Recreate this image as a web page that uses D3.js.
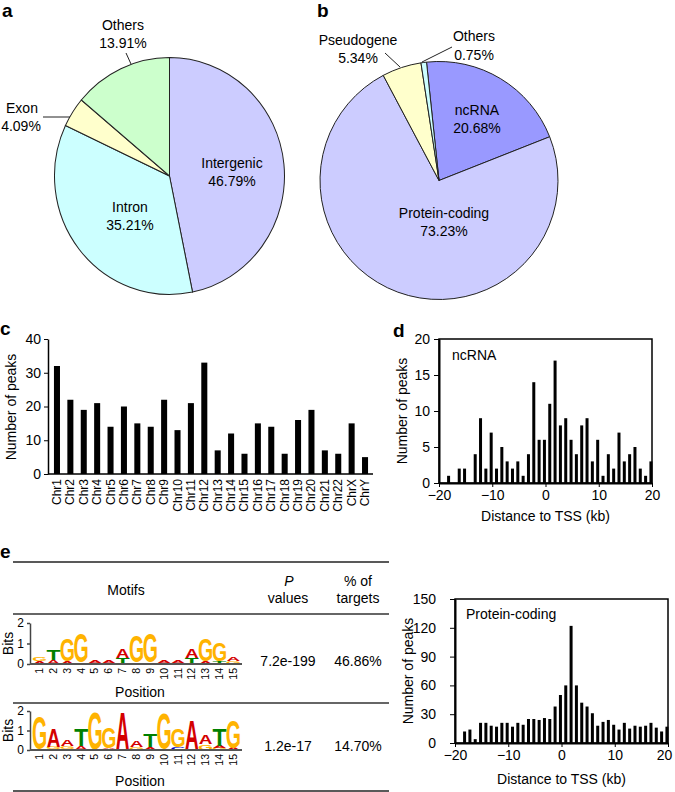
<!DOCTYPE html>
<html><head><meta charset="utf-8">
<script src="https://cdn.jsdelivr.net/npm/d3@7"></script>
<style>
body{margin:0;background:#fff}
svg{display:block}
text{font-family:"Liberation Sans",Arial,Helvetica,sans-serif}
</style>
</head><body>
<svg id="chart" width="675" height="792"></svg>
<script>
// ---------------- DATA ----------------
const pieACategories = ["Intergenic", "Intron", "Exon", "Others"];
const pieAValues = [46.79, 35.21, 4.09, 13.91];
const pieAColors = ["#ccccff", "#ccffff", "#ffffcc", "#ccffcc"];

const pieBCategories = ["ncRNA", "Protein-coding", "Pseudogene", "Others"];
const pieBValues = [20.68, 73.23, 5.34, 0.75];
const pieBColors = ["#9999ff", "#ccccff", "#ffffcc", "#ccffff"];

const chromosomes = ["Chr1","Chr2","Chr3","Chr4","Chr5","Chr6","Chr7","Chr8","Chr9","Chr10","Chr11","Chr12",
  "Chr13","Chr14","Chr15","Chr16","Chr17","Chr18","Chr19","Chr20","Chr21","Chr22","ChrX","ChrY"];
const peaksPerChromosome = [32,22,19,21,14,20,15,14,22,13,21,33,7,12,6,15,14,6,16,19,7,6,15,5];
const chrYTicks = [0,10,20,30,40];

const tssDistanceKb = [-20,-19,-18,-17,-16,-15,-14,-13,-12,-11,-10,-9,-8,-7,-6,-5,-4,-3,-2,-1,0,
  1,2,3,4,5,6,7,8,9,10,11,12,13,14,15,16,17,18,19,20];
const ncRNAPeaks = [0,0,1,0,2,2,0,4,9,2,7,2,5,3,2,3,1,4,14,6,6,
  11,17,8,9,6,4,8,9,3,6,1,4,2,7,3,4,5,2,1,3];
const proteinCodingPeaks = [0,0,12,14,4,21,21,18,17,21,21,17,21,19,25,25,24,26,25,38,50,
  60,122,60,42,38,31,18,22,24,19,14,21,15,18,17,18,21,16,12,17];
const ncRNAYTicks = [0,5,10,15,20];
const proteinCodingYTicks = [0,30,60,90,120,150];
const tssXTicks = [-20,-10,0,10,20];

const motifPositions = [1,2,3,4,5,6,7,8,9,10,11,12,13,14,15];
const bitsTicks = [0,1,2];
// each position: stack of [letter, bits] from bottom to top
const motif1 = [
  [["A",0.15],["G",0.2]],
  [["A",0.2],["T",0.5]],
  [["A",0.15],["G",1.1]],
  [["A",0.05],["G",1.5]],
  [["T",0.07],["A",0.15]],
  [["T",0.05],["A",0.1]],
  [["T",0.3],["A",0.45]],
  [["A",0.08],["G",1.35]],
  [["A",0.05],["G",1.45]],
  [["G",0.05],["A",0.15]],
  [["T",0.07],["A",0.12]],
  [["T",0.3],["A",0.45]],
  [["A",0.12],["G",1.1]],
  [["T",0.15],["G",0.95]],
  [["G",0.15],["A",0.2]]
];
const motif2 = [
  [["G",1.75]],
  [["C",0.04],["G",0.1],["A",0.95]],
  [["C",0.06],["G",0.15],["A",0.3]],
  [["A",0.2],["T",0.85]],
  [["G",1.95]],
  [["C",0.05],["A",0.05],["G",1.1]],
  [["A",2.0]],
  [["G",0.15],["A",0.3]],
  [["A",0.15],["T",0.65]],
  [["G",1.88]],
  [["C",0.15],["G",1.0]],
  [["T",0.05],["A",1.5]],
  [["G",0.3],["A",0.5]],
  [["G",0.1],["A",0.1],["T",0.85]],
  [["A",0.1],["G",1.5]]
];
const motifPValues = ["7.2e-199", "1.2e-17"];
const motifTargets = ["46.86%", "14.70%"];
const letterColors = {A:"#d40000", C:"#0000cc", G:"#ffb300", T:"#008000"};

// ---------------- DRAWING ----------------
const svg = d3.select("#chart");
svg.append("rect").attr("width",675).attr("height",792).attr("fill","#fff");

function txt(parent, s, x, y, o = {}) {
  const t = parent.append("text").attr("x", x).attr("y", y).text(s)
    .attr("font-size", o.fs || 14).attr("text-anchor", o.anchor || "middle").attr("fill", "#000");
  if (o.weight) t.attr("font-weight", o.weight);
  if (o.style) t.attr("font-style", o.style);
  if (o.rotate) t.attr("transform", `rotate(${o.rotate},${x},${y})`);
  return t;
}
function line(parent, x1, y1, x2, y2, w = 1, c = "#000") {
  parent.append("line").attr("x1",x1).attr("y1",y1).attr("x2",x2).attr("y2",y2)
    .attr("stroke", c).attr("stroke-width", w);
}
function styleAxis(g, fs) {
  g.attr("font-family", null).attr("font-size", fs);
  g.selectAll("text").attr("fill", "#000");
  g.selectAll("line,path").attr("stroke", "#000");
}

// panel labels
txt(svg, "a", 2, 17, {fs:19, weight:"bold", anchor:"start"});
txt(svg, "b", 317, 17, {fs:19, weight:"bold", anchor:"start"});
txt(svg, "c", 0, 335, {fs:19, weight:"bold", anchor:"start"});
txt(svg, "d", 393, 337, {fs:19, weight:"bold", anchor:"start"});
txt(svg, "e", 0, 558, {fs:19, weight:"bold", anchor:"start"});

// ----- Pie a -----
{
  const g = svg.append("g").attr("transform", "translate(169.5,176) scale(1,1.03)");
  const arc = d3.arc().innerRadius(0).outerRadius(115);
  const arcs = d3.pie().sort(null).value(d => d)(pieAValues);
  g.selectAll("path").data(arcs).join("path").attr("d", arc)
    .attr("fill", (d, i) => pieAColors[i]).attr("stroke", "#222").attr("stroke-width", 1);
  const fmt = v => v.toFixed(2) + "%";
  txt(svg, pieACategories[0], 232, 168); txt(svg, fmt(pieAValues[0]), 232, 186);
  txt(svg, pieACategories[1], 130, 212); txt(svg, fmt(pieAValues[1]), 130, 230);
  txt(svg, pieACategories[2], 22, 113); txt(svg, fmt(pieAValues[2]), 21, 131);
  line(svg, 43, 117, 70, 117, 1, "#222");
  txt(svg, pieACategories[3], 123, 30); txt(svg, fmt(pieAValues[3]), 123, 48);
  line(svg, 126, 53, 131, 64, 1, "#222");
}

// ----- Pie b -----
{
  const off = -0.105;
  const g = svg.append("g").attr("transform", "translate(439,180.5)");
  const arc = d3.arc().innerRadius(0).outerRadius(119);
  const arcs = d3.pie().sort(null).value(d => d).startAngle(off).endAngle(2 * Math.PI + off)(pieBValues);
  g.selectAll("path").data(arcs).join("path").attr("d", arc)
    .attr("fill", (d, i) => pieBColors[i]).attr("stroke", "#222").attr("stroke-width", 1);
  const fmt = v => v.toFixed(2) + "%";
  txt(svg, pieBCategories[0], 477, 115); txt(svg, fmt(pieBValues[0]), 477, 133);
  txt(svg, pieBCategories[1], 444, 218); txt(svg, fmt(pieBValues[1]), 444, 236);
  txt(svg, pieBCategories[2], 358, 45); txt(svg, fmt(pieBValues[2]), 358, 63);
  line(svg, 385, 53, 400, 67, 1, "#222");
  txt(svg, pieBCategories[3], 474, 41); txt(svg, fmt(pieBValues[3]), 474, 60);
  line(svg, 452, 47, 422, 62, 1, "#222");
}

// ----- Panel c: bar chart -----
{
  const x = d3.scaleBand().domain(chromosomes).range([49, 373]).paddingInner(0.55).paddingOuter(0.37);
  const y = d3.scaleLinear().domain([0, 40]).range([474, 339]);
  svg.append("g").selectAll("rect").data(peaksPerChromosome).join("rect")
    .attr("x", (d, i) => x(chromosomes[i])).attr("width", x.bandwidth())
    .attr("y", d => y(d)).attr("height", d => y(0) - y(d)).attr("fill", "#000");
  const ya = svg.append("g").attr("transform", "translate(48,0)")
    .call(d3.axisLeft(y).tickValues(chrYTicks).tickSize(4).tickSizeOuter(0).tickPadding(3));
  styleAxis(ya, 14);
  ya.select(".domain").attr("stroke-width", 1.5);
  line(svg, 48, 474, 373, 474, 1.5);
  chromosomes.forEach(c => {
    txt(svg, c, x(c) + x.bandwidth() / 2 + 4, 479, {fs:12, anchor:"end", rotate:-90});
  });
  txt(svg, "Number of peaks", 16, 407, {rotate:-90});
}

// ----- Histogram helper -----
function histogram(opts) {
  const {x0, x1, yTop, yBottom, yMax, yTicks, values, label, labelX, labelY, titleBaseline, yTitleX} = opts;
  const x = d3.scaleLinear().domain([-20, 20]).range([x0, x1]);
  const y = d3.scaleLinear().domain([0, yMax]).range([yBottom, yTop]);
  const bw = 3;
  svg.append("g").selectAll("rect").data(values).join("rect")
    .attr("x", (d, i) => x(tssDistanceKb[i] - 0.2) - bw / 2).attr("width", bw)
    .attr("y", d => y(d)).attr("height", d => y(0) - y(d)).attr("fill", "#000");
  svg.append("rect").attr("x", x0).attr("y", yTop).attr("width", x1 - x0).attr("height", yBottom - yTop)
    .attr("fill", "none").attr("stroke", "#000").attr("stroke-width", 1.5);
  const ya = svg.append("g").attr("transform", `translate(${x0},0)`)
    .call(d3.axisLeft(y).tickValues(yTicks).tickSize(5).tickSizeOuter(0).tickPadding(opts.yPad || 4));
  styleAxis(ya, 14);
  ya.select(".domain").attr("stroke-width", 2);
  const xa = svg.append("g").attr("transform", `translate(0,${yBottom})`)
    .call(d3.axisBottom(x).tickValues(tssXTicks).tickSize(4).tickSizeOuter(0).tickPadding(3));
  styleAxis(xa, 14);
  xa.select(".domain").attr("stroke-width", 2);
  if (opts.shiftLast) {
    xa.selectAll(".tick").filter(d => d === 20).select("text").attr("dx", opts.shiftLast);
  }
  txt(svg, label, labelX, labelY, {anchor:"start"});
  txt(svg, "Distance to TSS (kb)", (x0 + x1) / 2, titleBaseline);
  txt(svg, "Number of peaks", yTitleX, (yTop + yBottom) / 2, {rotate:-90});
}

histogram({x0:439, x1:652, yTop:339, yBottom:483, yMax:20, yTicks:ncRNAYTicks, values:ncRNAPeaks,
  label:"ncRNA", labelX:452, labelY:360, titleBaseline:521, yTitleX:407, yPad:4});
histogram({x0:455, x1:668, yTop:599, yBottom:743, yMax:150, yTicks:proteinCodingYTicks, values:proteinCodingPeaks,
  label:"Protein-coding", labelX:466, labelY:619, titleBaseline:784, yTitleX:413, yPad:14, shiftLast:-4});

// ----- Panel e table -----
{
  const L = 13, R = 389;
  line(svg, L, 562, R, 562, 1.5, "#222");
  line(svg, L, 614, R, 614, 1.5, "#333");
  line(svg, L, 703, R, 703, 1.5, "#333");
  line(svg, L, 791, R, 791, 1.5, "#222");
  txt(svg, "Motifs", 126, 595);
  txt(svg, "P", 289, 586, {style:"italic"});
  txt(svg, "values", 288, 603);
  txt(svg, "% of", 358, 586);
  txt(svg, "targets", 358, 603);
  txt(svg, motifPValues[0], 288, 666); txt(svg, motifTargets[0], 358, 666);
  txt(svg, motifPValues[1], 288, 751); txt(svg, motifTargets[1], 358, 751);

  const glyph = {A:{w:0.70, h:0.716, d:0}, C:{w:0.64, h:0.74, d:0.012}, G:{w:0.68, h:0.74, d:0.012}, T:{w:0.58, h:0.716, d:0}};
  function logo(motif, y0, y2, posBaseline) {
    const x = d3.scaleBand().domain(motifPositions).range([33, 240]).paddingInner(0.04);
    const y = d3.scaleLinear().domain([0, 2]).range([y0, y2]);
    const g = svg.append("g");
    motif.forEach((stack, i) => {
      let cum = 0;
      const p = motifPositions[i];
      stack.forEach(([ch, b]) => {
        const yb = y(cum), yt = y(cum + b);
        cum += b;
        const h = yb - yt, w = x.bandwidth();
        const gl = glyph[ch];
        const sx = w / (gl.w * 100), sy = h / (gl.h * 100);
        g.append("text").text(ch).attr("font-size", 100).attr("font-weight", "bold")
          .attr("text-anchor", "middle").attr("fill", letterColors[ch])
          .attr("transform", `translate(${x(p) + w / 2},${yb - gl.d * 100 * sy}) scale(${sx},${sy})`);
      });
    });
    const ya = svg.append("g").attr("transform", "translate(30,0)")
      .call(d3.axisLeft(y).tickValues(bitsTicks).tickSize(3).tickSizeOuter(0).tickPadding(3).tickFormat(d3.format("d")));
    styleAxis(ya, 12);
    ya.selectAll("line,path").attr("stroke", "#444").attr("stroke-width", 1.5);
    line(svg, 30, y0, 242, y0, 2, "#555");
    motifPositions.forEach(p => {
      txt(svg, String(p), x(p) + x.bandwidth() / 2 + 3.5, y0 + 4, {fs:10.5, anchor:"end", rotate:-90});
    });
    txt(svg, "Position", 140, posBaseline);
    txt(svg, "Bits", 13, (y0 + y2) / 2, {rotate:-90});
  }
  logo(motif1, 664, 623, 697);
  logo(motif2, 750, 711, 786);
}
</script>
</body></html>
